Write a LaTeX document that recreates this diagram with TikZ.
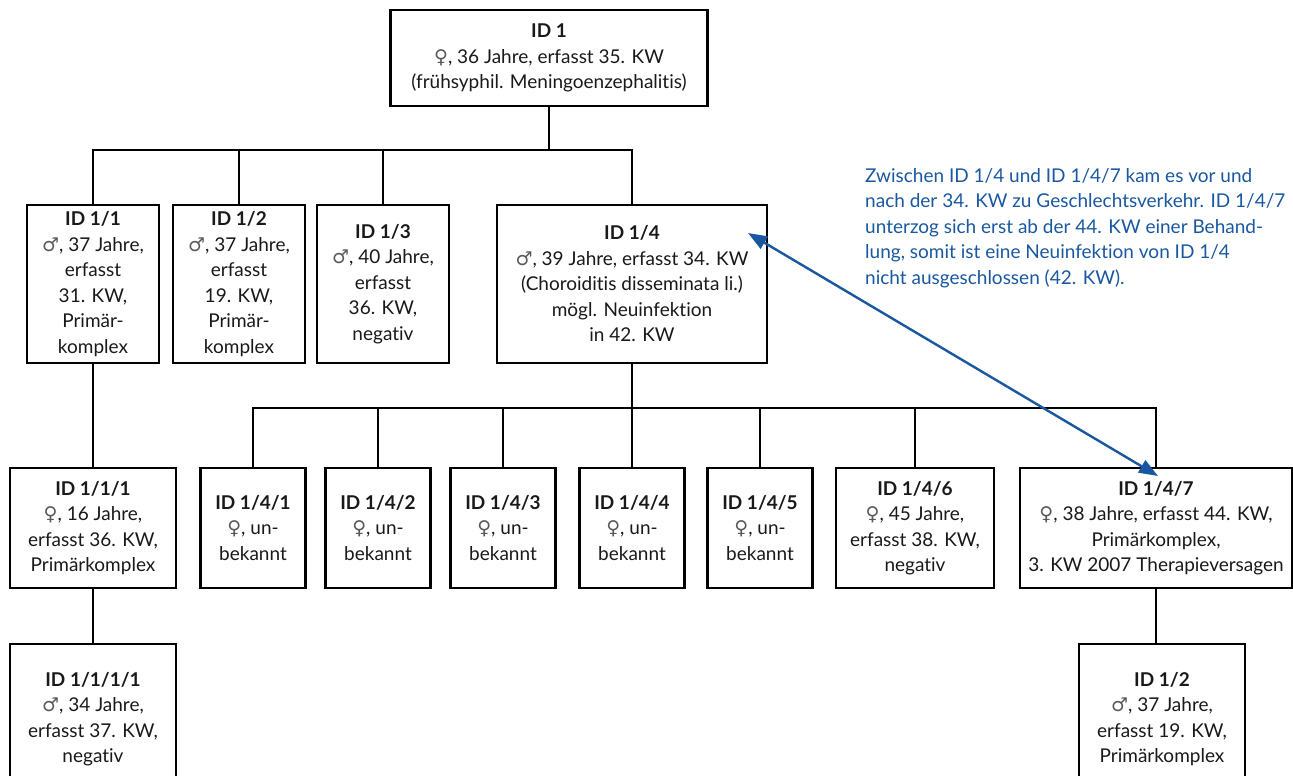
\documentclass[tikz,border=0pt]{standalone}
\usepackage{fontspec}
\setmainfont{Lato}[Ligatures=NoCommon]
\newfontfamily\symf{DejaVu Sans}
\usetikzlibrary{arrows.meta,calc}
\definecolor{annblue}{RGB}{25,88,160}
\newcommand{\fem}{{\symf\color{black!65}♀}}
\newcommand{\mal}{{\symf\color{black!65}♂}}
\begin{document}
\begin{tikzpicture}[x=1pt,y=-1pt,
  box/.style={draw, line width=2.1pt, align=center, inner sep=0pt,
    font=\fontsize{19}{25.5}\selectfont, text=black!90},
  conn/.style={line width=2.3pt},
  ann/.style={align=left, inner sep=0pt, text=annblue,
    font=\fontsize{19}{25.5}\selectfont},
  bluetip/.tip={Triangle[length=19pt,width=14pt]}]
\useasboundingbox (0,0) rectangle (1293,776);
\clip (0,0) rectangle (1293,776);

\node[box, minimum width=317, minimum height=96] (id1) at (549,58)
  {\textbf{ID 1}\\\fem, 36 Jahre, erfasst 35. KW\\(frühsyphil. Meningoenzephalitis)};

\node[box, minimum width=132, minimum height=158] (id11) at (93,284)
  {\textbf{ID 1/1}\\\mal, 37 Jahre,\\erfasst\\31. KW,\\Primär-\\komplex};
\node[box, minimum width=132, minimum height=158] (id12) at (239,284)
  {\textbf{ID 1/2}\\\mal, 37 Jahre,\\erfasst\\19. KW,\\Primär-\\komplex};
\node[box, minimum width=132, minimum height=158] (id13) at (383,284)
  {\textbf{ID 1/3}\\\mal, 40 Jahre,\\erfasst\\36. KW,\\negativ};
\node[box, minimum width=270, minimum height=158] (id14) at (632,284)
  {\textbf{ID 1/4}\\\mal, 39 Jahre, erfasst 34. KW\\(Choroiditis disseminata li.)\\mögl. Neuinfektion\\in 42. KW};

\node[box, minimum width=166, minimum height=120] (id111) at (93,528)
  {\textbf{ID 1/1/1}\\\fem, 16 Jahre,\\erfasst 36. KW,\\Primärkomplex};
\node[box, minimum width=105, minimum height=120] (id141) at (253,528)
  {\textbf{ID 1/4/1}\\\fem, un-\\bekannt};
\node[box, minimum width=105, minimum height=120] (id142) at (378,528)
  {\textbf{ID 1/4/2}\\\fem, un-\\bekannt};
\node[box, minimum width=105, minimum height=120] (id143) at (503,528)
  {\textbf{ID 1/4/3}\\\fem, un-\\bekannt};
\node[box, minimum width=105, minimum height=120] (id144) at (632,528)
  {\textbf{ID 1/4/4}\\\fem, un-\\bekannt};
\node[box, minimum width=105, minimum height=120] (id145) at (760,528)
  {\textbf{ID 1/4/5}\\\fem, un-\\bekannt};
\node[box, minimum width=158, minimum height=120] (id146) at (915,528)
  {\textbf{ID 1/4/6}\\\fem, 45 Jahre,\\erfasst 38. KW,\\negativ};
\node[box, minimum width=272, minimum height=120] (id147) at (1156,528)
  {\textbf{ID 1/4/7}\\\fem, 38 Jahre, erfasst 44. KW,\\Primärkomplex,\\3. KW 2007 Therapieversagen};

\node[box, minimum width=166, minimum height=150, anchor=north] (id1111) at (93,643)
  {\textbf{ID 1/1/1/1}\\\mal, 34 Jahre,\\erfasst 37. KW,\\negativ};
\node[box, minimum width=166, minimum height=150, anchor=north] (id12b) at (1162,643)
  {\textbf{ID 1/2}\\\mal, 37 Jahre,\\erfasst 19. KW,\\Primärkomplex};

\coordinate (bar1) at (0,150);
\coordinate (bar2) at (0,408);

\draw[conn] (id1.south) -- (id1.south |- bar1);
\draw[conn] (id11.north) -- (id11.north |- bar1) -- (id14.north |- bar1) -- (id14.north);
\draw[conn] (id12.north) -- (id12.north |- bar1);
\draw[conn] (id13.north) -- (id13.north |- bar1);

\draw[conn] (id14.south) -- (id14.south |- bar2);
\draw[conn] (id141.north) -- (id141.north |- bar2) -- (id147.north |- bar2) -- (id147.north);
\draw[conn] (id142.north) -- (id142.north |- bar2);
\draw[conn] (id143.north) -- (id143.north |- bar2);
\draw[conn] (id144.north) -- (id144.north |- bar2);
\draw[conn] (id145.north) -- (id145.north |- bar2);
\draw[conn] (id146.north) -- (id146.north |- bar2);

\draw[conn] (id11.south) -- (id111.north);
\draw[conn] (id111.south) -- (id1111.north);
\draw[conn] (id147.south) -- (id147.south |- id12b.north);

\coordinate (arrA) at (748,233);
\coordinate (arrB) at (1158,476);
\draw[annblue, line width=2.4pt, {bluetip}-{bluetip}] (arrA) -- (arrB);

\node[ann, anchor=north west] (note) at (865,168)
  {Zwischen ID 1/4 und ID 1/4/7 kam es vor und\\
   nach der 34. KW zu Geschlechtsverkehr. ID 1/4/7\\
   unterzog sich erst ab der 44. KW einer Behand-\\
   lung, somit ist eine Neuinfektion von ID 1/4\\
   nicht ausgeschlossen (42. KW).};
\end{tikzpicture}
\end{document}
